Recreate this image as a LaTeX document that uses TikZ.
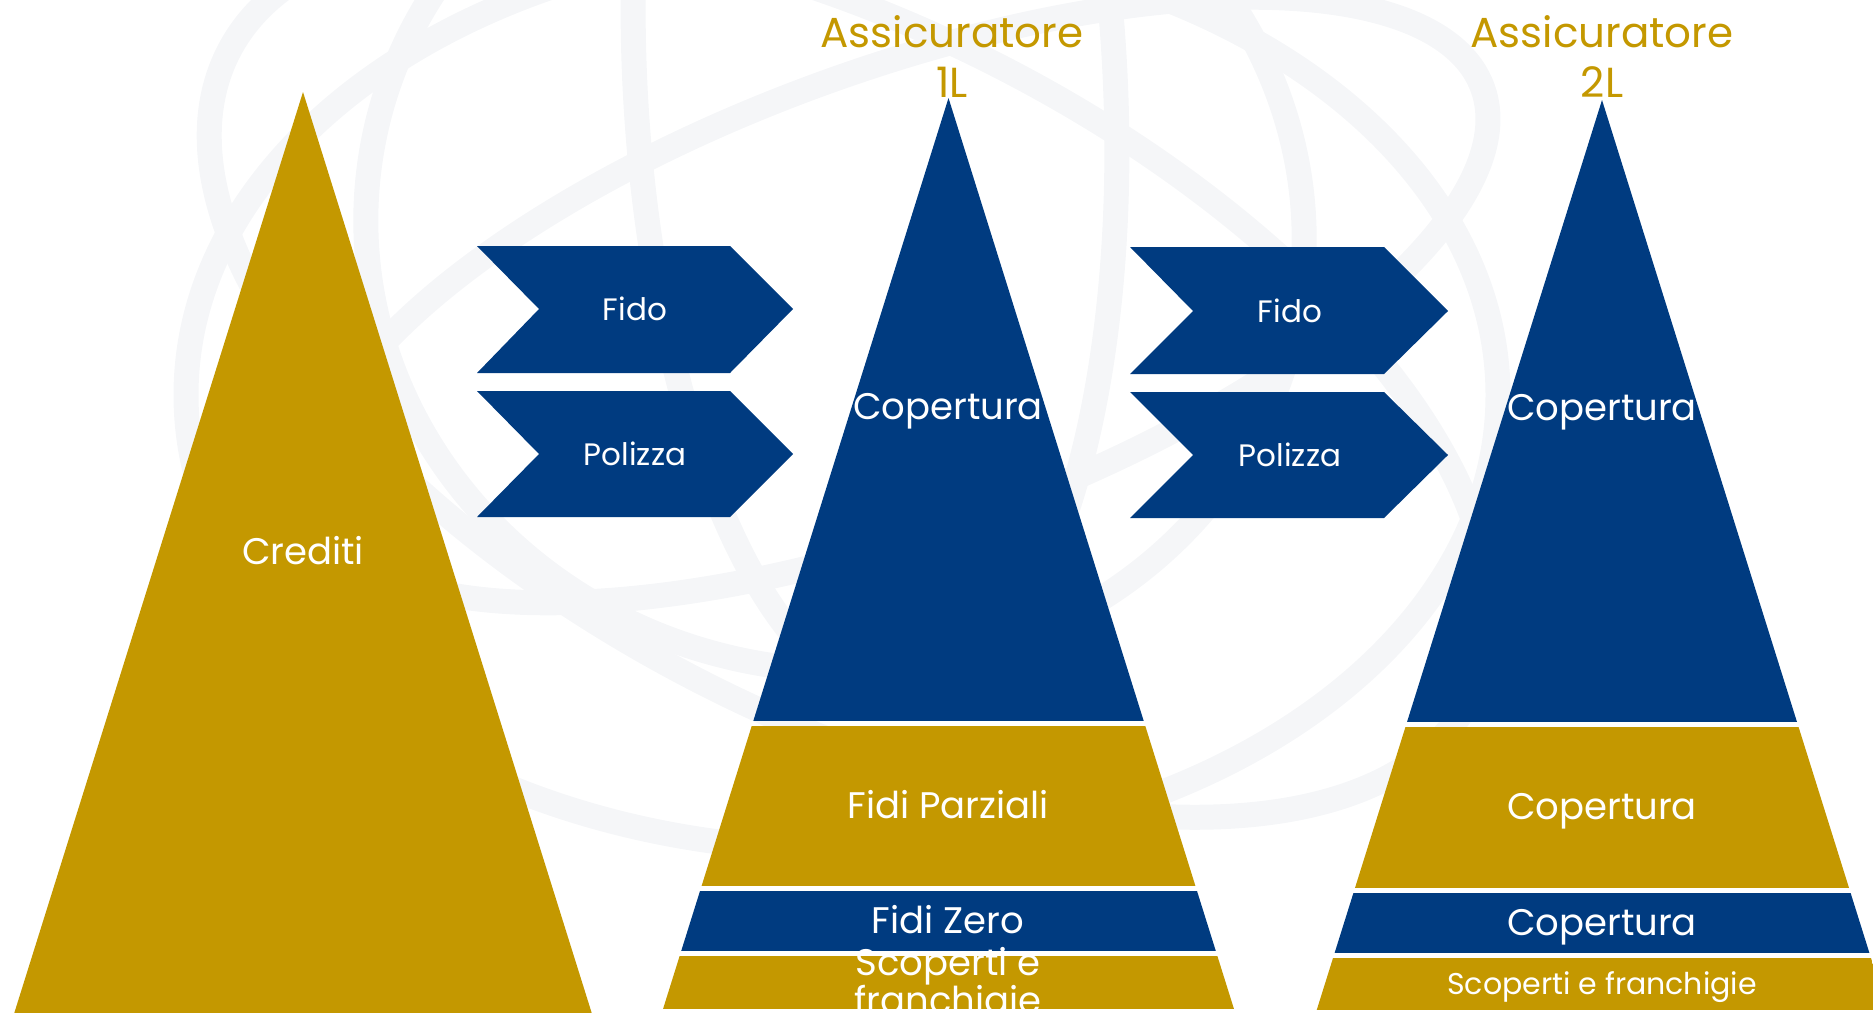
\documentclass[tikz,border=0pt]{standalone}
\usepackage{fontspec}
\setmainfont{Poppins}
\definecolor{gold}{RGB}{196,152,0}
\definecolor{navy}{RGB}{0,59,128}
\definecolor{globe}{RGB}{245,246,248}
\begin{document}
\begin{tikzpicture}[x=1pt,y=-1pt,
  globeline/.style={draw=globe,line width=25pt},
  chev/.style={fill=navy},
  lbl/.style={text=white,anchor=base,inner sep=0pt,font=\fontsize{37}{38}\selectfont},
  chevlbl/.style={text=white,anchor=base,inner sep=0pt,font=\fontsize{31}{34}\selectfont},
  ttl/.style={text=gold,anchor=base,inner sep=0pt,font=\fontsize{42}{46}\selectfont}]
\useasboundingbox (0,0) rectangle (1873,1012);
\clip (0,0) rectangle (1873,1012);
% background globe
\draw[globeline] (842,395) ellipse[x radius=656,y radius=455];
\draw[globeline] (835,230) ellipse[x radius=470,y radius=440,rotate=-10];
\draw[globeline] (875,80) ellipse[x radius=240,y radius=620,rotate=3];
\draw[globeline] (850,374) ellipse[x radius=700,y radius=342,rotate=-27.5];
\draw[globeline] (900,300) ellipse[x radius=620,y radius=230,rotate=20];
% Crediti pyramid
\fill[gold] (303,92) -- (-13,1100) -- (619,1100) -- cycle;
\node[lbl] (crediti) at (303,564) {Crediti};
% 1L pyramid
\begin{scope}
\clip (948.5,98) -- (634.5,1100) -- (1262.5,1100) -- cycle;
\fill[navy] (600,90) rectangle (1300,721);
\fill[gold] (600,726) rectangle (1300,886);
\fill[navy] (600,891) rectangle (1300,951);
\fill[gold] (600,956) rectangle (1300,1009);
\end{scope}
% 2L pyramid
\begin{scope}
\clip (1602,100) -- (1288.5,1100) -- (1915.5,1100) -- cycle;
\fill[navy] (1250,90) rectangle (1950,722);
\fill[gold] (1250,727) rectangle (1950,888);
\fill[navy] (1250,893) rectangle (1950,953);
\fill[gold] (1250,958) rectangle (1950,1010);
\end{scope}
% chevrons
\path[chev] (477,246) -- (730,246) -- (793,309) -- (730,373) -- (477,373) -- (539,309) -- cycle;
\path[chev] (477,391) -- (730,391) -- (793,454) -- (730,517) -- (477,517) -- (539,454) -- cycle;
\path[chev] (1130,247) -- (1384,247) -- (1448,311) -- (1384,374) -- (1130,374) -- (1193,311) -- cycle;
\path[chev] (1130,392) -- (1384,392) -- (1448,455) -- (1384,518) -- (1130,518) -- (1193,455) -- cycle;
\node[chevlbl] (fido1) at (635,320) {Fido};
\node[chevlbl] (pol1) at (635,465) {Polizza};
\node[chevlbl] (fido2) at (1290,322) {Fido};
\node[chevlbl] (pol2) at (1290,466) {Polizza};
% titles
\node[ttl] (t1a) at (952,47) {Assicuratore};
\node[ttl] (t1b) at (952,97) {1L};
\node[ttl] (t2a) at (1602,47) {Assicuratore};
\node[ttl] (t2b) at (1602,97) {2L};
% labels 1L
\node[lbl] (cop1) at (948,419) {Copertura};
\node[lbl] (parz) at (948,818) {Fidi Parziali};
\node[lbl] (zero) at (948,933) {Fidi Zero};
\node[lbl] (scop1a) at (948,975) {Scoperti e};
\node[lbl] (scop1b) at (948,1013) {franchigie};
% labels 2L
\node[lbl] (cop2a) at (1602,420) {Copertura};
\node[lbl] (cop2b) at (1602,819) {Copertura};
\node[lbl] (cop2c) at (1602,935) {Copertura};
\node[lbl,font=\fontsize{30}{32}\selectfont] (scop2) at (1602,994) {Scoperti e franchigie};
\end{tikzpicture}
\end{document}
